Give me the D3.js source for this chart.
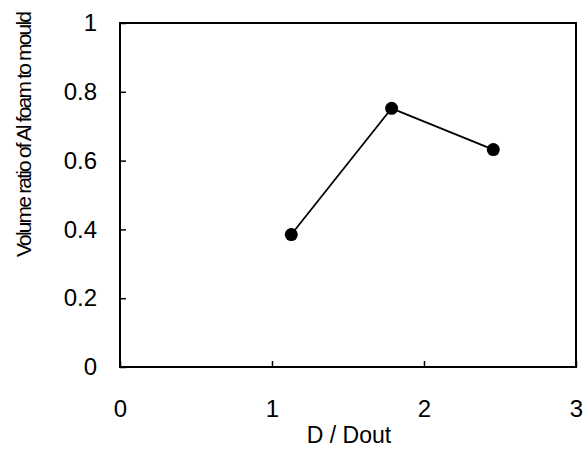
<!DOCTYPE html>
<html><head><meta charset="utf-8">
<script src="https://cdn.jsdelivr.net/npm/d3@7"></script>
<style>body{margin:0;background:#fff}svg{display:block}text{font-family:"Liberation Sans",Arial,sans-serif;fill:#000}</style>
</head><body><svg id="c" width="584" height="450"></svg>
<script>
const xValues = [1.127, 1.787, 2.456];
const yValues = [0.385, 0.752, 0.632];
const xTicks = [0, 1, 2, 3];
const yTicks = [0, 0.2, 0.4, 0.6, 0.8, 1];
const xTitle = "D / Dout";
const yTitle = "Volume ratio of Al foam to mould";

const FONT = '"Liberation Sans",Arial,sans-serif';
const svg = d3.select("#c");
const L = 120, R = 576, T = 23, B = 367;
const x = d3.scaleLinear().domain([0, 3]).range([L, R]);
const y = d3.scaleLinear().domain([0, 1]).range([B, T]);

// frame
svg.append("rect").attr("x", L).attr("y", T).attr("width", R - L).attr("height", B - T)
  .attr("fill", "none").attr("stroke", "#000").attr("stroke-width", 2);

// y axis
const ya = svg.append("g").attr("transform", `translate(${L},0)`)
  .call(d3.axisLeft(y).tickValues(yTicks).tickSize(-6).tickPadding(23).tickFormat(d => d3.format("")(d)));
ya.attr("font-size", null).attr("font-family", null);
ya.select(".domain").remove();
ya.selectAll("line").attr("stroke", "#000").attr("stroke-width", 1.5);
ya.selectAll("text").style("font-size", "24px").style("font-family", FONT);

// x axis
const xa = svg.append("g").attr("transform", `translate(0,${B})`)
  .call(d3.axisBottom(x).tickValues(xTicks).tickSize(-6).tickPadding(33).tickFormat(d3.format("d")));
xa.attr("font-size", null).attr("font-family", null);
xa.select(".domain").remove();
xa.selectAll("line").attr("stroke", "#000").attr("stroke-width", 1.5);
xa.selectAll("text").style("font-size", "24px").style("font-family", FONT);

// titles
svg.append("text").attr("x", 349).attr("y", 443).attr("text-anchor", "middle")
  .style("font-size", "23px").text(xTitle);
svg.append("text").attr("transform", `translate(31,134) rotate(-90)`).attr("text-anchor", "middle")
  .style("font-size", "21px").attr("textLength", 246).attr("lengthAdjust", "spacing").text(yTitle);

const data = xValues.map((v, i) => ({x: v, y: yValues[i]}));
svg.append("path").datum(data)
  .attr("d", d3.line().x(d => x(d.x)).y(d => y(d.y)))
  .attr("fill", "none").attr("stroke", "#000").attr("stroke-width", 1.8);
svg.selectAll("circle.pt").data(data).enter().append("circle").attr("class", "pt")
  .attr("cx", d => x(d.x)).attr("cy", d => y(d.y)).attr("r", 6.5).attr("fill", "#000");
</script></body></html>
